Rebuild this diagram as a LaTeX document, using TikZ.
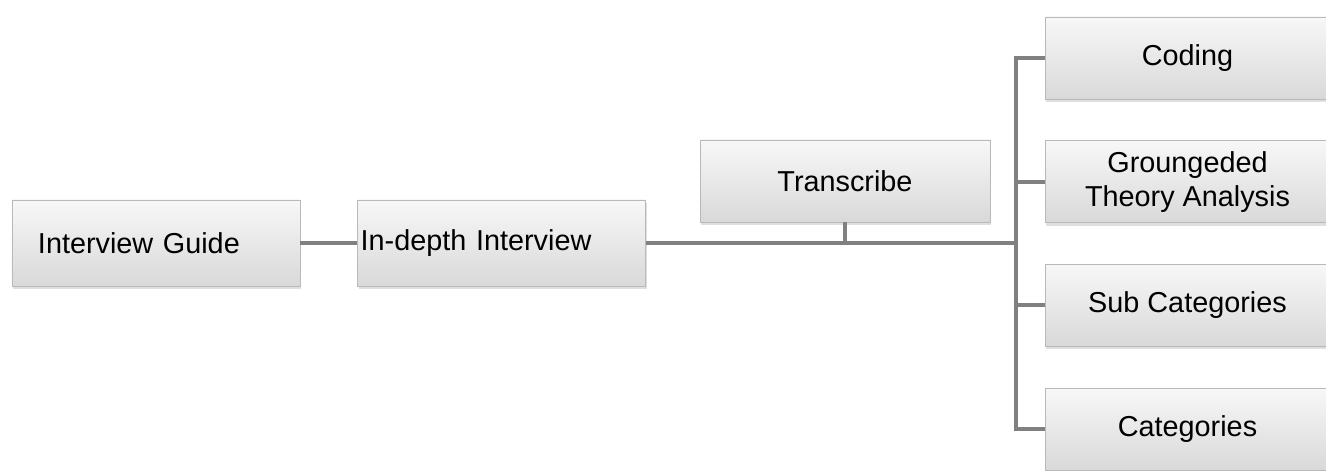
\documentclass[tikz,border=0pt]{standalone}
\usepackage{fontspec}
\setmainfont{Liberation Sans}
\usetikzlibrary{positioning, shadows}

\begin{document}
\begin{tikzpicture}[
  every node/.style={font=\fontsize{16.4}{19.5}\selectfont},
  box/.style={draw=gray!55, top color=gray!6, bottom color=gray!30, inner sep=0pt,
    minimum width=5.76cm, minimum height=1.72cm,
    drop shadow={opacity=0.25, shadow xshift=0.6pt, shadow yshift=-1.6pt}},
  rbox/.style={box, minimum width=5.7cm, minimum height=1.64cm, align=center},
  link/.style={draw=gray, line width=2.2pt}
 ]
 \useasboundingbox (0,0) rectangle (26.52,9.42);

 \node [box, text width=4.72cm, align=left] (G) at (3.12,4.56) {Interview Guide};
 \node [box, text width=5.64cm, align=left, right=1.14cm of G] (I) {In-depth Interview};
 \node [box, minimum width=5.8cm, minimum height=1.64cm] (T) at (16.9,5.8) {Transcribe};

 % right column runs past the page edge
 \node [rbox] (Co) at (23.75,8.26) {Coding};
 \node [rbox, below=0.82cm of Co] (Th) {Groungeded\\Theory Analysis};
 \node [rbox, below=0.82cm of Th] (Sc) {Sub Categories};
 \node [rbox, below=0.82cm of Sc] (Ca) {Categories};

 \coordinate (bus) at ([xshift=7.4cm]I.east);

 \draw [link] (G) -- (I);
 \draw [link] (I.east) -- (bus);
 \draw [link] (T.south) -- (T.south |- bus);
 \foreach \n in {Co,Th,Sc,Ca} {
  \draw [link] (\n.west) -| (bus);
 }
\end{tikzpicture}
\end{document}
